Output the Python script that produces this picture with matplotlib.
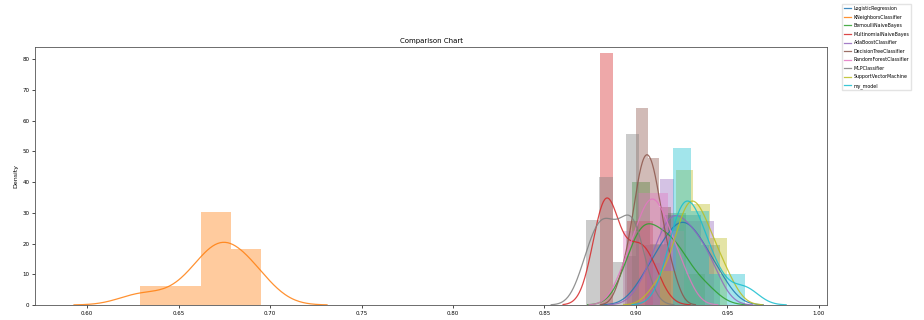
import numpy as np
import matplotlib
matplotlib.use("Agg")
import matplotlib.pyplot as plt
import seaborn as sns

# 10-fold CV accuracy per model
models = ["LogisticRegression", "KNeighborsClassifier", "BernoulliNaiveBayes",
          "MultinomialNaiveBayes", "AdaBoostClassifier", "DecisionTreeClassifier",
          "RandomForestClassifier", "MLPClassifier", "SupportVectorMachine", "my_model"]

logreg = [0.9050, 0.9120, 0.9170, 0.9210, 0.9240, 0.9270, 0.9300, 0.9340, 0.9390, 0.9460]
knn = [0.6290, 0.6520, 0.6650, 0.6680, 0.6710, 0.6740, 0.6770, 0.6840, 0.6890, 0.6950]
bernoulli_nb = [0.8976, 0.9005, 0.9030, 0.9060, 0.9090, 0.9140, 0.9190, 0.9220, 0.9260, 0.9376]
multinomial_nb = [0.8803, 0.8815, 0.8830, 0.8845, 0.8855, 0.8870, 0.8975, 0.9000, 0.9050, 0.9095]
adaboost = [0.9060, 0.9140, 0.9160, 0.9190, 0.9220, 0.9250, 0.9290, 0.9330, 0.9370, 0.9425]
decision_tree = [0.8940, 0.9003, 0.9015, 0.9035, 0.9050, 0.9075, 0.9090, 0.9110, 0.9130, 0.9190]
random_forest = [0.8930, 0.8990, 0.9030, 0.9060, 0.9080, 0.9100, 0.9130, 0.9160, 0.9200, 0.9260]
mlp = [0.8728, 0.8765, 0.8810, 0.8830, 0.8850, 0.8910, 0.8955, 0.8975, 0.8995, 0.9016]
svm = [0.9130, 0.9235, 0.9255, 0.9275, 0.9300, 0.9330, 0.9355, 0.9385, 0.9430, 0.9495]
my_model = [0.9204, 0.9225, 0.9245, 0.9265, 0.9285, 0.9315, 0.9345, 0.9375, 0.9445, 0.9596]

scores = [logreg, knn, bernoulli_nb, multinomial_nb, adaboost,
          decision_tree, random_forest, mlp, svm, my_model]
n_bins = [4, 4, 4, 4, 5, 4, 4, 4, 4, 4]

colors = plt.rcParams["axes.prop_cycle"].by_key()["color"]

fig = plt.figure(figsize=(9.24, 3.2), dpi=100)
ax = fig.add_axes([0.038, 0.047, 0.857, 0.806])

for name, vals, nb, c in zip(models, scores, n_bins, colors):
    vals = np.array(vals)
    ax.hist(vals, bins=nb, density=True, alpha=0.4, color=c)
    sns.kdeplot(x=vals, ax=ax, color=c, cut=3, linewidth=0.9, alpha=0.85, label=name)

ax.set_xlim(0.5716, 1.0044)
ax.set_ylim(0, 84)
ax.set_xticks(np.arange(0.60, 1.001, 0.05))
ax.set_xticklabels([f"{t:.2f}" for t in np.arange(0.60, 1.001, 0.05)])
ax.set_yticks(range(0, 81, 10))
ax.tick_params(labelsize=4, length=2, width=0.5, pad=2)
ax.set_ylabel("Density", fontsize=4.5, labelpad=3)
ax.set_xlabel("")
ax.set_title("Comparison Chart", fontsize=5, pad=3)
for s in ax.spines.values():
    s.set_linewidth(0.6)
    s.set_color("#555555")

handles, labels = ax.get_legend_handles_labels()
fig.legend(handles, labels, loc="upper left", bbox_to_anchor=(0.910, 0.99),
           fontsize=3.4, frameon=True, handlelength=1.6, handletextpad=0.5,
           labelspacing=0.75, borderpad=0.4, borderaxespad=0.2,
           fancybox=False, edgecolor="#dddddd")

fig.savefig("out.png", dpi=100)
